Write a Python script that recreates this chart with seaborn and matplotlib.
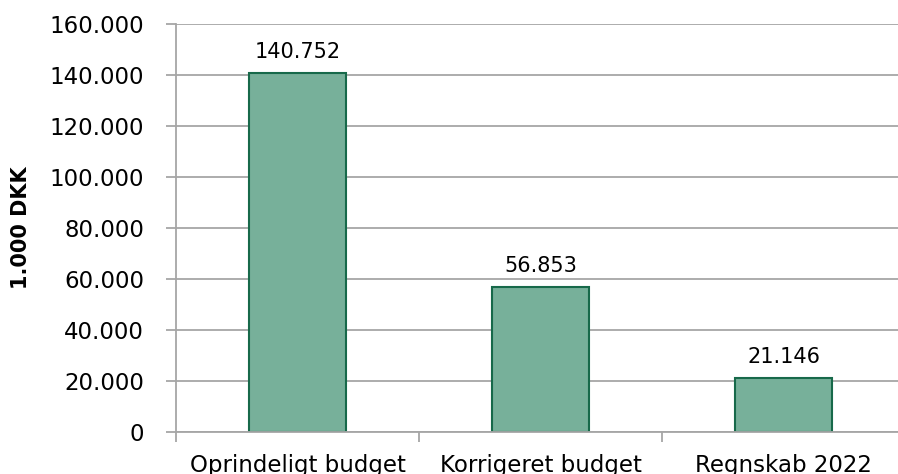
import matplotlib
matplotlib.use("Agg")
import matplotlib.pyplot as plt
import seaborn as sns
import pandas as pd
from matplotlib.ticker import FuncFormatter, FixedLocator

categories = ["Oprindeligt budget", "Korrigeret budget", "Regnskab 2022"]
values = [140752, 56853, 21146]

def dk(x, pos=None):
    return f"{int(round(x)):,}".replace(",", ".")

sns.set_style("white", {"xtick.bottom": True, "ytick.left": True,
                        "text.color": "black", "axes.labelcolor": "black",
                        "xtick.color": "black", "ytick.color": "black"})
plt.rcParams['font.family'] = ['DejaVu Sans']

df = pd.DataFrame({"kategori": categories, "beloeb": values})

fig = plt.figure(figsize=(8.98, 4.74), dpi=100)
ax = fig.add_axes([0.196, 0.0885, 0.812, 0.861])

sns.barplot(data=df, x="kategori", y="beloeb", order=categories, color="#77B09A",
            edgecolor="#17694A", linewidth=1.5, width=0.40, saturation=1, ax=ax)

ax.set_ylim(0, 160000)
ax.set_xlim(-0.5, 2.5)
ax.set_yticks(range(0, 160001, 20000))
ax.yaxis.set_major_formatter(FuncFormatter(dk))
ax.yaxis.grid(True, color="#A6A6A6", linewidth=1.3)
ax.set_axisbelow(True)

for i, v in enumerate(values):
    ax.text(i, v + 4300, dk(v), ha="center", va="bottom", fontsize=15, color="black")

ax.xaxis.set_minor_locator(FixedLocator([-0.5, 0.5, 1.5, 2.5]))
ax.tick_params(axis="x", which="major", length=0, pad=16, labelsize=16.5, labelcolor="black")
ax.tick_params(axis="x", which="minor", length=7, width=1.3, color="#A6A6A6", direction="out")
ax.tick_params(axis="y", length=7, width=1.3, color="#A6A6A6", direction="out", pad=16,
               labelsize=16.5, labelcolor="black")

for s in ["top", "right"]:
    ax.spines[s].set_visible(False)
for s in ["left", "bottom"]:
    ax.spines[s].set_color("#A6A6A6")
    ax.spines[s].set_linewidth(1.3)

ax.set_xlabel("")
ax.set_ylabel("1.000 DKK", fontsize=15, fontweight="bold", labelpad=13, color="black")

fig.savefig("out.png", dpi=100)
